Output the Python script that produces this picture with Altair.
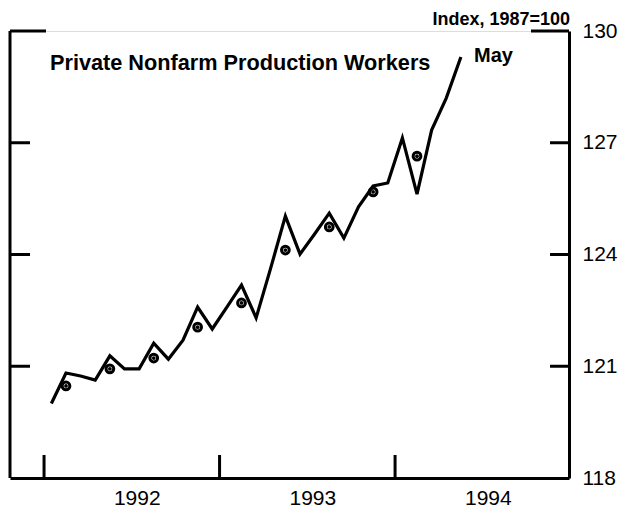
import altair as alt
import pandas as pd

# Monthly index values, Jan 1992 - May 1994 (1987=100)
months = ["1992-01", "1992-02", "1992-03", "1992-04", "1992-05", "1992-06",
          "1992-07", "1992-08", "1992-09", "1992-10", "1992-11", "1992-12",
          "1993-01", "1993-02", "1993-03", "1993-04", "1993-05", "1993-06",
          "1993-07", "1993-08", "1993-09", "1993-10", "1993-11", "1993-12",
          "1994-01", "1994-02", "1994-03", "1994-04", "1994-05"]
values = [120.00, 120.82, 120.74, 120.63, 121.28, 120.93,
          120.93, 121.62, 121.19, 121.70, 122.59, 122.00,
          122.59, 123.18, 122.30, 123.64, 125.03, 124.01,
          124.55, 125.11, 124.44, 125.28, 125.84, 125.92,
          127.13, 125.62, 127.34, 128.20, 129.30]

# Quarterly averages (plotted at the middle month of each quarter)
quarter_months = ["1992-02", "1992-05", "1992-08", "1992-11",
                  "1993-02", "1993-05", "1993-08", "1993-11", "1994-02"]
quarter_values = [120.47, 120.93, 121.22, 122.05, 122.70, 124.12, 124.74, 125.68, 126.64]

year_ticks = [1992, 1993, 1994]
year_labels = [1992.5, 1993.5, 1994.5]
y_ticks = [118, 121, 124, 127, 130]
inner_y_ticks = [121, 124, 127]

FONT = "Liberation Sans"


def dec_year(s):
    y, m = s.split("-")
    return int(y) + (int(m) - 0.5) / 12.0


monthly = pd.DataFrame({"t": [dec_year(m) for m in months], "v": values})
quarterly = pd.DataFrame({"t": [dec_year(m) for m in quarter_months], "v": quarter_values})
xt = pd.DataFrame({"t": year_ticks})
yt = pd.DataFrame({"v": inner_y_ticks})
top = pd.DataFrame({"v": [130]})
dummy = pd.DataFrame({"a": [0]})

W, H = 559, 447
xscale = alt.Scale(domain=[1991.806, 1994.991], nice=False, zero=False)
yscale = alt.Scale(domain=[118, 130], nice=False, zero=False)

line = alt.Chart(monthly).mark_line(color="black", strokeWidth=3.2, strokeJoin="miter").encode(
    x=alt.X("t:Q", scale=xscale,
            axis=alt.Axis(values=year_labels, labelExpr="floor(datum.value)", title=None,
                          ticks=False, grid=False, domain=True, domainColor="black",
                          domainWidth=3, labelFont=FONT, labelFontSize=21,
                          labelColor="black", labelPadding=9, labelOffset=5,
                          labelFlush=False)),
    y=alt.Y("v:Q", scale=yscale,
            axis=alt.Axis(orient="right", values=y_ticks, title=None, ticks=False,
                          grid=False, domain=True, domainColor="black", domainWidth=3,
                          labelFont=FONT, labelFontSize=21, labelColor="black",
                          labelPadding=13, labelFlush=False)),
)

ring = alt.Chart(quarterly).mark_point(shape="circle", filled=False, color="black",
                                        opacity=1, strokeWidth=3, size=60).encode(
    x=alt.X("t:Q", scale=xscale), y=alt.Y("v:Q", scale=yscale))
dot = alt.Chart(quarterly).mark_point(shape="circle", filled=True, color="black",
                                       opacity=1, size=14).encode(
    x=alt.X("t:Q", scale=xscale), y=alt.Y("v:Q", scale=yscale))

left_border = alt.Chart(dummy).mark_rule(color="black", strokeWidth=3).encode(
    x=alt.value(0), y=alt.value(0), y2=alt.value(H))

x_tick_rules = alt.Chart(xt).mark_rule(color="black", strokeWidth=3).encode(
    x=alt.X("t:Q", scale=xscale), y=alt.value(H), y2=alt.value(H - 23))

left_ticks = alt.Chart(yt).mark_rule(color="black", strokeWidth=3).encode(
    y=alt.Y("v:Q", scale=yscale), x=alt.value(0), x2=alt.value(20))
right_ticks = alt.Chart(yt).mark_rule(color="black", strokeWidth=3).encode(
    y=alt.Y("v:Q", scale=yscale), x=alt.value(W - 19), x2=alt.value(W))
top_left = alt.Chart(top).mark_rule(color="black", strokeWidth=3).encode(
    y=alt.Y("v:Q", scale=yscale), x=alt.value(0), x2=alt.value(36))
top_right = alt.Chart(top).mark_rule(color="black", strokeWidth=3).encode(
    y=alt.Y("v:Q", scale=yscale), x=alt.value(W - 38), x2=alt.value(W))

title_txt = alt.Chart(dummy).mark_text(text="Private Nonfarm Production Workers", font=FONT,
                                        fontSize=21.7, fontWeight="bold", color="black",
                                        align="left", baseline="alphabetic").encode(
    x=alt.value(40), y=alt.value(39))
may_txt = alt.Chart(dummy).mark_text(text="May", font=FONT, fontSize=20, fontWeight="bold",
                                      color="black", align="left",
                                      baseline="alphabetic").encode(
    x=alt.value(464), y=alt.value(31))
unit_txt = alt.Chart(dummy).mark_text(text="Index, 1987=100", font=FONT, fontSize=18,
                                       fontWeight="bold", color="black", align="right",
                                       baseline="alphabetic").encode(
    x=alt.value(W + 1), y=alt.value(-6))

chart = alt.layer(line, ring, dot, left_border, x_tick_rules, left_ticks, right_ticks,
                  top_left, top_right, title_txt, may_txt, unit_txt).properties(
    width=W, height=H,
    autosize=alt.AutoSizeParams(type="none"),
    padding={"left": 2, "top": 23, "right": 49, "bottom": 30},
).configure_view(stroke=None).configure(background="white")

chart.save("out.html", embed_options={"renderer": "svg", "actions": False})
